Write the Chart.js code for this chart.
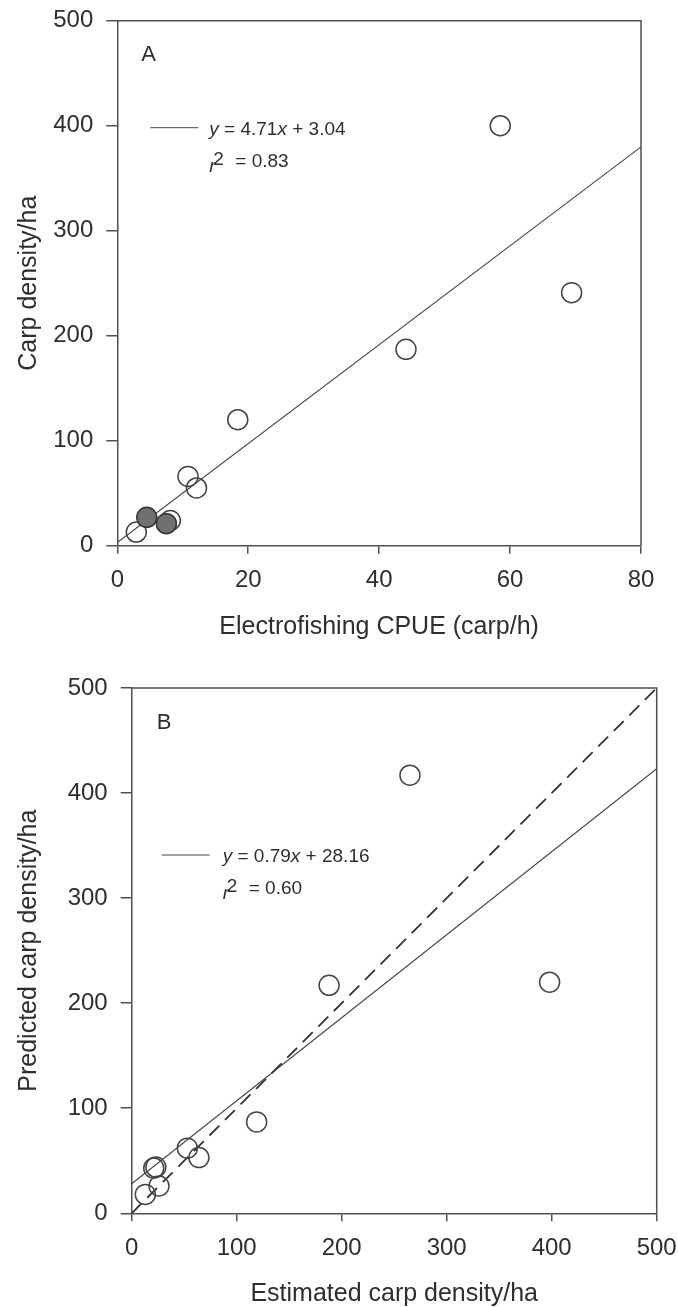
<!DOCTYPE html>
<html>
<head>
<meta charset="utf-8">
<script src="https://cdn.jsdelivr.net/npm/chart.js@4.4.1/dist/chart.umd.min.js"></script>
<style>
body{margin:0;background:#fff;}
#wrap{position:relative;width:678px;height:1307px;overflow:hidden;}
canvas{position:absolute;left:0;}
</style>
</head>
<body>
<div id="wrap">
<canvas id="chartA" width="678" height="650" style="top:0px"></canvas>
<canvas id="chartB" width="678" height="657" style="top:650px"></canvas>
</div>
<script>
// Panel A: electrofishing CPUE vs carp density
let cpueOpen = [2.9, 8.1, 10.8, 12.1, 18.4, 44.1, 58.5, 69.4];
let densityOpen = [13, 24, 66, 55, 120, 187, 400, 241];
let cpueFilled = [4.5, 7.5];
let densityFilled = [27, 21];
let fitAX = [0, 80];
let fitAY = [3.04, 379.84];
let xTicksA = [0, 20, 40, 60, 80];

// Panel B: estimated vs predicted density
let estimated = [13, 26, 21, 23, 53, 64, 119, 188, 265, 398];
let predicted = [18, 26, 43, 44, 62, 53, 87, 217, 417, 220];
let fitBX = [0, 500];
let fitBY = [28.16, 423.16];
let oneToOneX = [0, 500];
let oneToOneY = [0, 500];
let xTicksB = [0, 100, 200, 300, 400, 500];
let yTicks = [0, 100, 200, 300, 400, 500];

const fontFamily = '"Liberation Sans", Arial, sans-serif';
const textColor = "#2e2e2e";
const axisColor = "#505050";

function pts(xs, ys){
    return xs.map((x, i) => ({x: x, y: ys[i]}));
}

function drawRuns(ctx, runs, x, y, size){
    runs.forEach(r => {
        ctx.font = r[1] + " " + size + "px " + fontFamily;
        ctx.fillText(r[0], x + (r[3] || 0), y + (r[2] || 0));
        x += r[3] !== undefined ? r[3] : ctx.measureText(r[0]).width;
    });
}

const panelDecor = {
    id: "panelDecor",
    afterDatasetsDraw(chart, args, opts){
        const ctx = chart.ctx;
        const a = chart.chartArea;
        ctx.save();
        // top and right frame
        ctx.strokeStyle = axisColor;
        ctx.lineWidth = 1.5;
        ctx.beginPath();
        ctx.moveTo(a.left, a.top);
        ctx.lineTo(a.right, a.top);
        ctx.lineTo(a.right, a.bottom);
        ctx.stroke();

        // panel letter
        ctx.fillStyle = textColor;
        ctx.textBaseline = "middle";
        ctx.font = "22px " + fontFamily;
        ctx.fillText(opts.letter, a.left + opts.letterX, a.top + opts.letterY);

        // regression key
        let ly = a.top + opts.keyY;
        ctx.strokeStyle = "#444";
        ctx.lineWidth = 1;
        ctx.beginPath();
        ctx.moveTo(a.left + opts.keyX, ly);
        ctx.lineTo(a.left + opts.keyX + 48, ly);
        ctx.stroke();

        ctx.textBaseline = "alphabetic";
        let tx = a.left + opts.keyX + 48 + opts.gap;
        drawRuns(ctx, [["y", "italic"], [" = " + opts.slope, "normal"], ["x", "italic"], [" + " + opts.intercept, "normal"]], tx, ly + 7, 19);
        // SigmaPlot style r²: r sits low, the 2 overlaps it
        ctx.font = "italic 19px " + fontFamily;
        ctx.fillText("r", tx, ly + 44);
        ctx.font = "19px " + fontFamily;
        ctx.fillText("2", tx + 4, ly + 37);
        ctx.fillText("= " + opts.r2, tx + 26, ly + 39);
        ctx.restore();
    }
};

function axisCommon(ticksArr, tickLen, pad, title, titlePad){
    return {
        type: "linear",
        min: ticksArr[0],
        max: ticksArr[ticksArr.length - 1],
        afterBuildTicks(scale){
            scale.ticks = ticksArr.map(v => ({value: v}));
        },
        grid: {
            drawOnChartArea: false,
            drawTicks: true,
            tickLength: tickLen,
            color: axisColor,
            lineWidth: 1.5
        },
        border: {display: true, color: axisColor, width: 1.5},
        ticks: {
            color: textColor,
            padding: pad,
            font: {family: fontFamily, size: 24}
        },
        title: {
            display: true,
            text: title,
            color: textColor,
            padding: titlePad,
            font: {family: fontFamily, size: 25, lineHeight: 1}
        }
    };
}

function makeChart(id, datasets, xTicks, xTitle, yTitle, box, decor){
    let xAxis = axisCommon(xTicks, 8, 12.5, xTitle, {top: 0, bottom: box.xTitlePad});
    xAxis.afterFit = s => {
        s.height = box.xHeight;
        s.paddingLeft = 0;
        s.paddingRight = 0;
    };
    let yAxis = axisCommon(yTicks, 11, 13, yTitle, {top: box.yTitlePad, bottom: 0});
    yAxis.afterFit = s => {
        s.width = box.yWidth;
        s.paddingTop = 0;
        s.paddingBottom = 0;
    };

    return new Chart(document.getElementById(id), {
        type: "scatter",
        data: {datasets: datasets},
        options: {
            responsive: false,
            animation: false,
            devicePixelRatio: 1,
            layout: {padding: {top: box.top, right: box.right, left: 0, bottom: 0}},
            plugins: {
                legend: {display: false},
                tooltip: {enabled: false},
                panelDecor: decor
            },
            scales: {x: xAxis, y: yAxis}
        },
        plugins: [panelDecor]
    });
}

const openStyle = {
    pointRadius: 10,
    pointBorderWidth: 1.5,
    pointBackgroundColor: "rgba(255,255,255,0)",
    pointBorderColor: "#444"
};

makeChart("chartA", [
    Object.assign({data: pts(cpueFilled, densityFilled)}, openStyle, {pointBackgroundColor: "#707070", pointBorderColor: "#333"}),
    Object.assign({data: pts(cpueOpen, densityOpen)}, openStyle),
    {data: pts(fitAX, fitAY), showLine: true, pointRadius: 0, borderColor: "#444", borderWidth: 1.1}
], xTicksA, "Electrofishing CPUE (carp/h)", "Carp density/ha",
    {top: 20.7, right: 37, xHeight: 104.3, yWidth: 117.3, xTitlePad: 10.5, yTitlePad: 16.5},
    {letter: "A", letterX: 24, letterY: 34, keyX: 33, keyY: 107, gap: 11, slope: "4.71", intercept: "3.04", r2: "0.83"});

makeChart("chartB", [
    Object.assign({data: pts(estimated, predicted)}, openStyle),
    {data: pts(fitBX, fitBY), showLine: true, pointRadius: 0, borderColor: "#444", borderWidth: 1.1},
    {data: pts(oneToOneX, oneToOneY), showLine: true, pointRadius: 0, borderColor: "#333", borderWidth: 1.8, borderDash: [14, 8]}
], xTicksB, "Estimated carp density/ha", "Predicted carp density/ha",
    {top: 38, right: 21.3, xHeight: 93.7, yWidth: 131.7, xTitlePad: 0, yTitlePad: 16.5},
    {letter: "B", letterX: 25, letterY: 35, keyX: 30, keyY: 167, gap: 13, slope: "0.79", intercept: "28.16", r2: "0.60"});
</script>
</body>
</html>
